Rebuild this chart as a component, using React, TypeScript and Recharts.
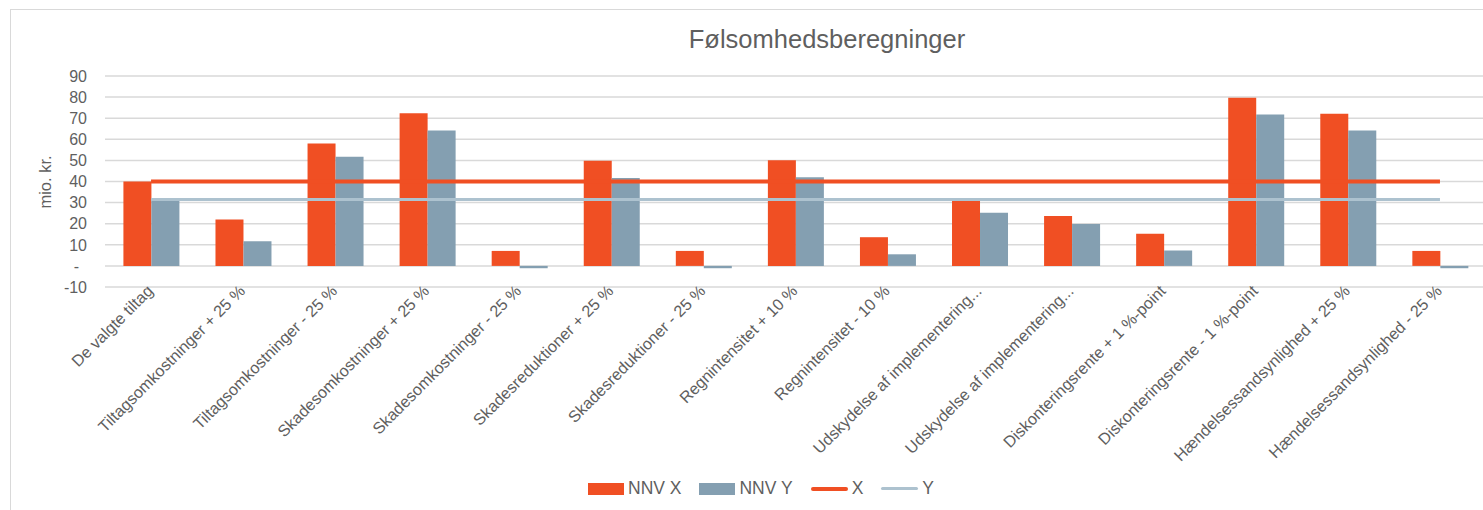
import React from "react";
import { ComposedChart, Bar, Line, XAxis, YAxis, CartesianGrid } from "recharts";

const categories = [
  "De valgte tiltag",
  "Tiltagsomkostninger + 25 %",
  "Tiltagsomkostninger - 25 %",
  "Skadesomkostninger + 25 %",
  "Skadesomkostninger - 25 %",
  "Skadesreduktioner + 25 %",
  "Skadesreduktioner - 25 %",
  "Regnintensitet + 10 %",
  "Regnintensitet - 10 %",
  "Udskydelse af implementering...",
  "Udskydelse af implementering...",
  "Diskonteringsrente + 1 %-point",
  "Diskonteringsrente - 1 %-point",
  "Hændelsessandsynlighed + 25 %",
  "Hændelsessandsynlighed - 25 %",
];

const nnvX = [40, 22, 58, 72.3, 7.1, 49.8, 7.1, 50.1, 13.6, 30.7, 23.6, 15.2, 79.7, 72.1, 7.1];
const nnvY = [31.4, 11.7, 51.7, 64.2, -1.1, 41.7, -1.1, 42, 5.5, 25.2, 19.8, 7.3, 71.8, 64.2, -1.1];

// reference levels (value for "De valgte tiltag")
const levelX = 40;
const levelY = 31.5;

const yTicks = [-10, 0, 10, 20, 30, 40, 50, 60, 70, 80, 90];

const seriesNames = { nnvX: "NNV X", nnvY: "NNV Y", x: "X", y: "Y" };

const ORANGE = "#F04F23";
const BLUEGRAY = "#849FB1";
const LIGHTBLUE = "#ADC2CF";
const TEXT = "#5F5F5F";
const FONT = '"Liberation Sans", Arial, sans-serif';

const data = categories.map((name, i) => ({
  name,
  nnvX: nnvX[i],
  nnvY: nnvY[i],
  x: levelX,
  y: levelY,
}));

const XTick = ({ x, y, payload }: any) => {
  const ax = x + 3;
  const ay = y + 5;
  return (
    <text
      x={ax}
      y={ay}
      transform={`rotate(-45, ${ax}, ${ay})`}
      textAnchor="end"
      fontSize={16.2}
      fill={TEXT}
      fontFamily={FONT}
    >
      {payload.value}
    </text>
  );
};

const YTick = ({ x, y, payload }: any) => {
  const isZero = payload.value === 0;
  return (
    <text
      x={isZero ? x - 26 : x - 18}
      y={y}
      dy="0.36em"
      textAnchor="end"
      fontSize={16}
      fill={TEXT}
      fontFamily={FONT}
    >
      {isZero ? "-" : payload.value}
    </text>
  );
};

const LegendItem = ({ kind, color, label }: { kind: "rect" | "line"; color: string; label: string }) => (
  <div style={{ display: "flex", alignItems: "center", marginRight: 18 }}>
    {kind === "rect" ? (
      <div style={{ width: 36, height: 12, background: color }} />
    ) : (
      <div style={{ width: 37, height: color === ORANGE ? 4 : 3, background: color, borderRadius: 2 }} />
    )}
    <span style={{ marginLeft: 4, fontSize: 17.5, color: TEXT, fontFamily: FONT }}>{label}</span>
  </div>
);

export default function App() {
  return (
    <div
      style={{
        position: "absolute",
        left: 0,
        top: 0,
        width: 1483,
        height: 510,
        overflow: "hidden",
        background: "#fff",
      }}
    >
      <div
        style={{
          position: "absolute",
          left: 10,
          top: 9,
          width: 1600,
          height: 600,
          border: "1.5px solid #D9D9D9",
        }}
      />
      <svg
        width={1483}
        height={510}
        style={{ position: "absolute", left: 0, top: 0, pointerEvents: "none" }}
      >
        <text x={827} y={48} textAnchor="middle" fontSize={25.5} fill={TEXT} fontFamily={FONT}>
          Følsomhedsberegninger
        </text>
        <text
          x={51}
          y={182}
          transform="rotate(-90, 51, 182)"
          textAnchor="middle"
          fontSize={16.5}
          fill={TEXT}
          fontFamily={FONT}
        >
          mio. kr.
        </text>
      </svg>
      <div style={{ position: "absolute", left: 0, top: 0 }}>
        <ComposedChart
          width={1500}
          height={510}
          data={data}
          margin={{ top: 76, right: 14, left: 0, bottom: 0 }}
          barCategoryGap="20%"
          barGap={0}
        >
          <CartesianGrid vertical={false} stroke="#D9D9D9" strokeWidth={1.5} />
          <XAxis
            dataKey="name"
            interval={0}
            height={223}
            axisLine={false}
            tickLine={false}
            tickSize={0}
            tickMargin={0}
            tick={<XTick />}
          />
          <YAxis
            width={105}
            domain={[-10, 90]}
            ticks={yTicks}
            interval={0}
            axisLine={false}
            tickLine={false}
            tickSize={0}
            tickMargin={0}
            tick={<YTick />}
          />
          <Bar dataKey="nnvX" name={seriesNames.nnvX} fill={ORANGE} isAnimationActive={false} />
          <Bar dataKey="nnvY" name={seriesNames.nnvY} fill={BLUEGRAY} isAnimationActive={false} />
          <Line
            dataKey="x"
            name={seriesNames.x}
            stroke={ORANGE}
            strokeWidth={4}
            dot={false}
            activeDot={false}
            isAnimationActive={false}
          />
          <Line
            dataKey="y"
            name={seriesNames.y}
            stroke={LIGHTBLUE}
            strokeWidth={3}
            dot={false}
            activeDot={false}
            isAnimationActive={false}
          />
        </ComposedChart>
      </div>
      <div style={{ position: "absolute", left: 588, top: 478, display: "flex", alignItems: "center" }}>
        <LegendItem kind="rect" color={ORANGE} label={seriesNames.nnvX} />
        <LegendItem kind="rect" color={BLUEGRAY} label={seriesNames.nnvY} />
        <LegendItem kind="line" color={ORANGE} label={seriesNames.x} />
        <LegendItem kind="line" color={LIGHTBLUE} label={seriesNames.y} />
      </div>
    </div>
  );
}
